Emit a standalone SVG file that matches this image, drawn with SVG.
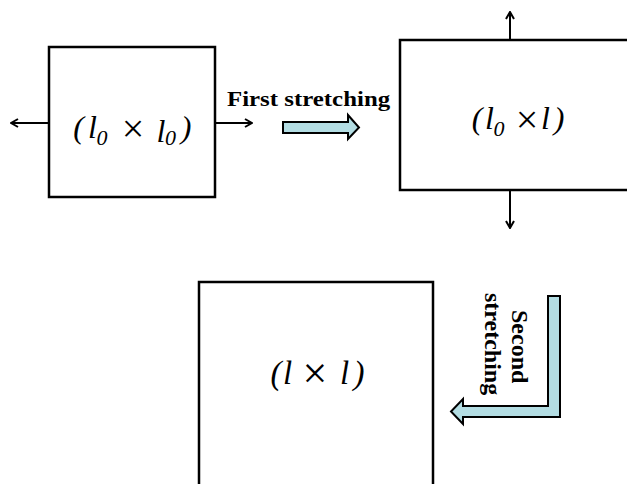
<svg xmlns="http://www.w3.org/2000/svg" width="627" height="484" viewBox="0 0 627 484">
<style>
.box{fill:#fff;stroke:#000;stroke-width:2.5}
.ln{stroke:#000;stroke-width:2;fill:none}
.blk{fill:#b3dde3;stroke:#000;stroke-width:2;stroke-linejoin:miter}
.m{font-family:"Liberation Serif","Times New Roman",serif;font-style:italic;font-size:32px;fill:#000;text-anchor:middle}
.sub{font-size:22px}
.x{font-style:normal;font-size:40px}
.lab{font-family:"Liberation Serif","Times New Roman",serif;font-weight:bold;font-size:22px;fill:#000}
.vlab{font-family:"Liberation Serif","Times New Roman",serif;font-weight:bold;font-size:24px;fill:#000}
</style>
<defs>
<marker id="ah" viewBox="0 0 10 10" refX="9" refY="5" markerWidth="10" markerHeight="10" markerUnits="userSpaceOnUse" orient="auto">
<path d="M2,1 L9,5 L2,9" fill="none" stroke="#000" stroke-width="2"/>
</marker>
</defs>
<rect width="627" height="484" fill="#fff"/>
<g id="connectors">
<line class="ln" x1="49" y1="123" x2="11" y2="123" marker-end="url(#ah)"/>
<line class="ln" x1="215" y1="123" x2="252" y2="123" marker-end="url(#ah)"/>
<line class="ln" x1="510" y1="40" x2="510" y2="12" marker-end="url(#ah)"/>
<line class="ln" x1="510" y1="190" x2="510" y2="228" marker-end="url(#ah)"/>
<polygon class="blk" points="283,122 348,122 348,115 359,127.5 348,139 348,133 283,133"/>
<polygon class="blk" points="548,296 560,296 560,417 463,417 463,424 451,411.5 463,399 463,406 548,406"/>
<text class="lab" transform="translate(227,106) scale(1.13,1)">First stretching</text>
<text class="vlab" transform="translate(512,310) rotate(90)">Second</text>
<text class="vlab" transform="translate(485,293) rotate(90)">stretching</text>
</g>
<g id="node1">
<rect class="box" x="49" y="47" width="166" height="150"/>
<text class="m" y="138"><tspan x="78.5">(</tspan><tspan x="92.5">l</tspan><tspan class="sub" x="102" y="145">0</tspan><tspan class="x" x="133" y="142">×</tspan><tspan x="161">l</tspan><tspan class="sub" x="170.5" y="145">0</tspan><tspan x="186" y="138">)</tspan></text>
</g>
<g id="node2">
<rect class="box" x="400" y="40" width="240" height="150"/>
<text class="m" y="129"><tspan x="477">(</tspan><tspan x="489.5">l</tspan><tspan class="sub" x="499" y="136">0</tspan><tspan class="x" x="527" y="133">×</tspan><tspan x="545.5" y="129">l</tspan><tspan x="559">)</tspan></text>
</g>
<g id="node3">
<rect class="box" x="199" y="282" width="234" height="230"/>
<text class="m" y="384" style="font-size:33px"><tspan x="276">(</tspan><tspan x="287.5">l</tspan><tspan class="x" x="315" y="388" style="font-size:44px">×</tspan><tspan x="344.5" y="384">l</tspan><tspan x="359">)</tspan></text>
</g>
</svg>
